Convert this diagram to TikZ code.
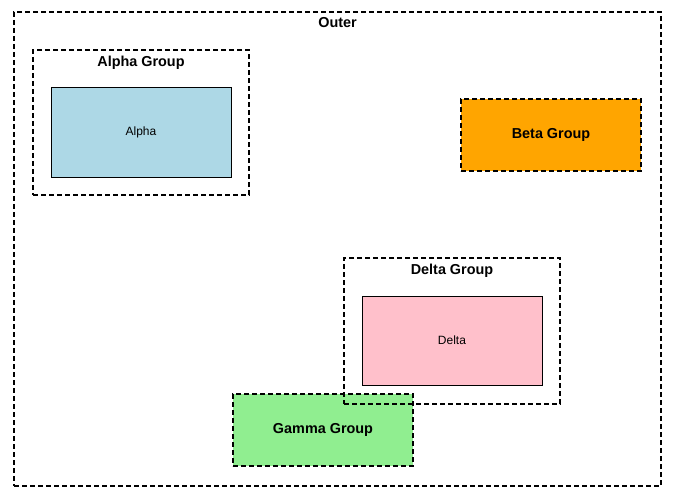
\documentclass[tikz,border=0pt]{standalone}
\usepackage{fontspec}
\setmainfont{Liberation Sans}
\usetikzlibrary{positioning}
\definecolor{alphablue}{RGB}{173,216,230}
\definecolor{betaorange}{RGB}{255,165,0}
\definecolor{gammagreen}{RGB}{144,238,144}
\definecolor{deltapink}{RGB}{255,192,203}
\tikzset{
  groupbox/.style={draw, dash pattern=on 5pt off 3pt, line width=1.4pt},
  grouptitle/.style={inner sep=0pt, font=\fontsize{14.4}{16}\selectfont\bfseries},
  leafbox/.style={draw, line width=0.7pt, minimum width=180pt, minimum height=90pt,
    font=\fontsize{12}{14}\selectfont},
}
\begin{document}
\begin{tikzpicture}[x=1pt,y=-1pt]
\useasboundingbox (0,0) rectangle (675,500);
% outer cluster
\node[groupbox, minimum width=647pt, minimum height=474pt] (outer) at (337.5,249) {};
\node[grouptitle, below=5.5pt of outer.north] (outertitle) {Outer};
% alpha cluster
\node[groupbox, minimum width=216pt, minimum height=145pt] (alphagroup) at (141,122.5) {};
\node[grouptitle, below=6.5pt of alphagroup.north] (alphatitle) {Alpha Group};
\node[leafbox, fill=alphablue] (alpha) at (141,132) {Alpha};
% beta and gamma as filled clusters
\node[groupbox, grouptitle, fill=betaorange, minimum width=180pt, minimum height=72pt] (beta) at (551,135) {Beta Group};
\node[groupbox, grouptitle, fill=gammagreen, minimum width=180pt, minimum height=72pt] (gamma) at (323,430) {Gamma Group};
% delta cluster
\node[groupbox, minimum width=216pt, minimum height=146pt] (deltagroup) at (452,331) {};
\node[grouptitle, below=6.5pt of deltagroup.north] (deltatitle) {Delta Group};
\node[leafbox, fill=deltapink, minimum height=89pt] (delta) at (452,340.5) {Delta};
\end{tikzpicture}
\end{document}
